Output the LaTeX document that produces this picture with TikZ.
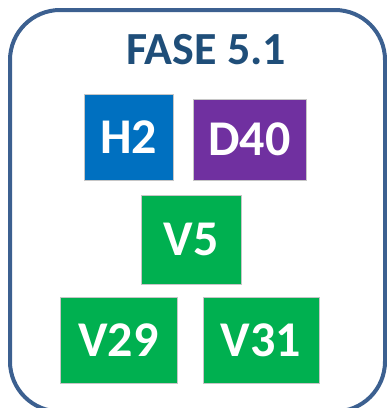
\documentclass[tikz,border=0pt]{standalone}
\usepackage{fontspec}
\setmainfont{Carlito}
\usetikzlibrary{positioning}

\definecolor{faseblue}{HTML}{1F4E79}
\definecolor{frameblue}{HTML}{3C6090}
\definecolor{hblue}{HTML}{0070C0}
\definecolor{dpurple}{HTML}{7030A0}
\definecolor{vgreen}{HTML}{00B050}

\begin{document}
\begin{tikzpicture}[x=1pt,y=-1pt,
  tag/.style={draw=gray!45,line width=0.8pt},
  tagtext/.style={text=white,font=\bfseries\fontsize{50}{50}\selectfont}]
\useasboundingbox (0,0) rectangle (387,408);
\draw[frameblue,line width=4pt,rounded corners=50pt] (10,10) rectangle (385,411.5);
\node[text=faseblue,font=\bfseries\fontsize{46}{46}\selectfont] (fase) at (206,50) {FASE 5.1};
\draw[tag,fill=hblue] (84,94) rectangle (173,180);\node[tagtext] (h2) at (128.5,137) {H2};
\draw[tag,fill=dpurple] (193,99) rectangle (306,180);\node[tagtext] (d40) at (249.5,139.5) {D40};
\draw[tag,fill=vgreen] (141,195) rectangle (241,284);\node[tagtext] (v5) at (191,239.5) {V5};
\draw[tag,fill=vgreen] (60,297) rectangle (177,383);\node[tagtext] (v29) at (118.5,340) {V29};
\draw[tag,fill=vgreen] (203,297) rectangle (319,383);\node[tagtext] (v31) at (261,340) {V31};
\end{tikzpicture}
\end{document}
